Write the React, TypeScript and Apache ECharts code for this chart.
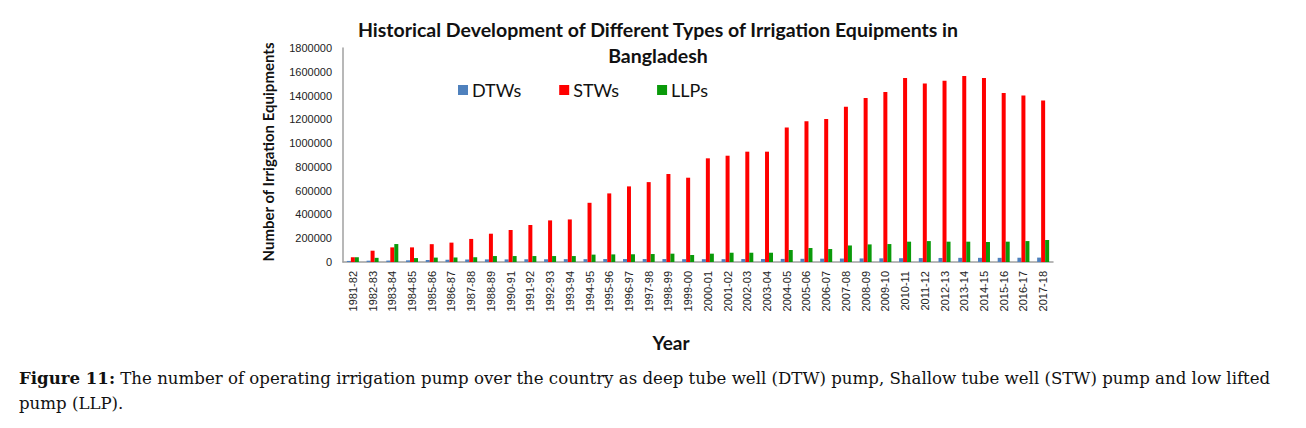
import React, { useEffect, useRef } from "react";
import * as echarts from "echarts";

const years = [
  "1981-82", "1982-83", "1983-84", "1984-85", "1985-86", "1986-87", "1987-88", "1988-89",
  "1990-91", "1991-92", "1992-93", "1993-94", "1994-95", "1995-96", "1996-97", "1997-98",
  "1998-99", "1999-00", "2000-01", "2001-02", "2002-03", "2003-04", "2004-05", "2005-06",
  "2006-07", "2007-08", "2008-09", "2009-10", "2010-11", "2011-12", "2012-13", "2013-14",
  "2014-15", "2015-16", "2016-17", "2017-18",
];

const dtws = [
  9000, 11000, 12000, 14000, 17000, 19000, 21000, 22000,
  22000, 23000, 23000, 24000, 24000, 25000, 25000, 25000,
  25000, 24000, 24000, 24000, 25000, 25000, 26000, 27000,
  28000, 29000, 30000, 31000, 32000, 33000, 34000, 35000,
  35000, 35000, 36000, 37000,
];

const stws = [
  40000, 95000, 123000, 123000, 150000, 163000, 194000, 238000,
  269000, 311000, 350000, 358000, 498000, 577000, 636000, 672000,
  740000, 709000, 872000, 894000, 928000, 928000, 1132000, 1183000,
  1203000, 1306000, 1379000, 1430000, 1548000, 1502000, 1525000, 1564000,
  1548000, 1421000, 1401000, 1359000,
];

const llps = [
  40000, 35000, 151000, 33000, 37000, 38000, 40000, 50000,
  50000, 50000, 50000, 50000, 62000, 64000, 65000, 67000,
  70000, 59000, 70000, 78000, 78000, 78000, 101000, 118000,
  109000, 139000, 148000, 151000, 171000, 176000, 171000, 171000,
  168000, 171000, 176000, 185000,
];

const yTicks = { min: 0, max: 1800000, interval: 200000 };

const titleText = "Historical Development of Different Types of Irrigation Equipments in\nBangladesh";
const captionLine1 =
  "The number of operating irrigation pump over the country as deep tube well (DTW) pump, Shallow tube well (STW) pump and low lifted";
const captionLine2 = "pump (LLP).";

export default function App() {
  const ref = useRef<HTMLDivElement>(null);

  useEffect(() => {
    if (!ref.current) return;
    const chart = echarts.init(ref.current, null, { renderer: "svg" });
    const font = "Lato, 'Open Sans', sans-serif";
    const serif = "'DejaVu Serif', serif";
    const barBase = { type: "bar" as const, barWidth: 4, barGap: "0%" };
    chart.setOption({
      animation: false,
      backgroundColor: "#ffffff",
      title: {
        text: titleText,
        left: 653,
        top: 11,
        textAlign: "center",
        textStyle: {
          fontFamily: font,
          fontWeight: "bold",
          fontSize: 19.5,
          lineHeight: 26,
          color: "#111111",
        },
      },
      legend: {
        left: 453,
        top: 76,
        itemWidth: 10,
        itemHeight: 10,
        itemGap: 38,
        icon: "rect",
        textStyle: { fontFamily: font, fontSize: 18, color: "#111111", padding: [0, 0, 0, -1] },
        data: ["DTWs", "STWs", "LLPs"],
      },
      grid: { left: 343, right: 253, top: 48, bottom: 166, containLabel: false },
      xAxis: {
        type: "category",
        data: years,
        axisLine: { lineStyle: { color: "#A0A0A0", width: 1.5 } },
        axisTick: { show: false },
        axisLabel: {
          rotate: 90,
          interval: 0,
          fontFamily: "'Liberation Sans', Arial, sans-serif",
          fontSize: 11,
          color: "#222222",
          margin: 9,
        },
      },
      yAxis: {
        type: "value",
        min: yTicks.min,
        max: yTicks.max,
        interval: yTicks.interval,
        splitLine: { show: false },
        axisLine: { show: true, lineStyle: { color: "#A0A0A0", width: 1.5 } },
        axisTick: { show: false },
        axisLabel: {
          fontFamily: "'Liberation Sans', Arial, sans-serif",
          fontSize: 11,
          color: "#222222",
          margin: 11,
          formatter: (v: number) => String(v),
        },
      },
      series: [
        { ...barBase, name: "DTWs", data: dtws, itemStyle: { color: "#4F81BD" } },
        { ...barBase, name: "STWs", data: stws, itemStyle: { color: "#FF0000" } },
        { ...barBase, name: "LLPs", data: llps, itemStyle: { color: "#0A9A0A" } },
      ],
      graphic: [
        {
          type: "text",
          x: 268,
          y: 152,
          rotation: Math.PI / 2,
          style: {
            text: "Number of Irrigation Equipments",
            fontFamily: font,
            fontWeight: "bold",
            fontSize: 15,
            fill: "#111111",
            align: "center",
            verticalAlign: "middle",
          },
        },
        {
          type: "text",
          x: 671,
          y: 342,
          style: {
            text: "Year",
            fontFamily: font,
            fontWeight: "bold",
            fontSize: 19,
            fill: "#111111",
            align: "center",
            verticalAlign: "middle",
          },
        },
        {
          type: "text",
          x: 19,
          y: 378,
          style: {
            text: "{b|Figure 11:} " + captionLine1,
            verticalAlign: "middle",
            rich: {
              b: { fontFamily: serif, fontWeight: "bold", fontSize: 16.6, fill: "#111111" },
            },
            fontFamily: serif,
            fontSize: 16.6,
            fill: "#111111",
          },
        },
        {
          type: "text",
          x: 19,
          y: 403,
          style: {
            text: captionLine2,
            verticalAlign: "middle",
            fontFamily: serif,
            fontSize: 16.6,
            fill: "#111111",
          },
        },
      ],
    });
    return () => chart.dispose();
  }, []);

  return (
    <div
      ref={ref}
      style={{ position: "fixed", left: 0, top: 0, width: 1306, height: 428, background: "#fff" }}
    />
  );
}
